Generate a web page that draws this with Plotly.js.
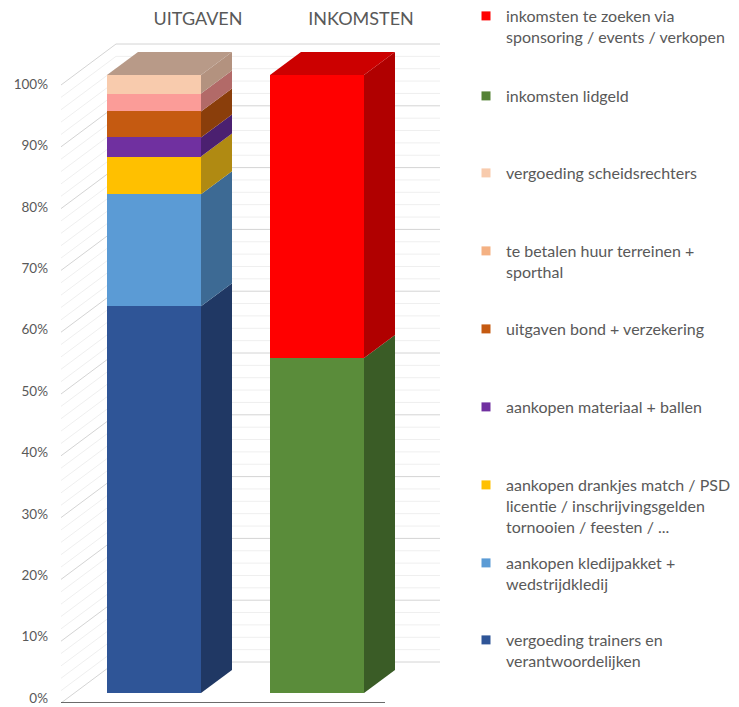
<!DOCTYPE html>
<html><head><meta charset="utf-8">
<script src="https://cdn.plot.ly/plotly-3.0.1.min.js"></script>
<style>html,body{margin:0;padding:0;background:#fff}</style>
</head><body><div id="chart" style="width:739px;height:707px"></div>
<script>
// ---------- data ----------
const categories = ['UITGAVEN', 'INKOMSTEN'];
const uitgavenLabels = [
  'vergoeding trainers en<br>verantwoordelijken',
  'aankopen kledijpakket +<br>wedstrijdkledij',
  'aankopen drankjes match / PSD<br>licentie / inschrijvingsgelden<br>tornooien / feesten / ...',
  'aankopen materiaal + ballen',
  'uitgaven bond + verzekering',
  'te betalen huur terreinen +<br>sporthal',
  'vergoeding scheidsrechters'
];
const uitgavenValues = [62.6, 18.1, 6.1, 3.1, 4.2, 2.9, 3.0];
const inkomstenLabels = [
  'inkomsten lidgeld',
  'inkomsten te zoeken via<br>sponsoring / events / verkopen'
];
const inkomstenValues = [54.2, 45.8];
const yTickValues = [0, 10, 20, 30, 40, 50, 60, 70, 80, 90, 100];
const yTickLabels = ['0%', '10%', '20%', '30%', '40%', '50%', '60%', '70%', '80%', '90%', '100%'];

// ---------- styles ----------
const uitgavenFront  = ['#2F5597', '#5B9BD5', '#FFC000', '#7030A0', '#C55A11', '#FB9C98', '#F8CBAD'];
const uitgavenSide   = ['#203864', '#3D6A94', '#B08A12', '#4B2070', '#8A3E0B', '#B26A68', '#B3927F'];
const uitgavenLegend = ['#2F5597', '#5B9BD5', '#FFC000', '#7030A0', '#C55A11', '#F4B183', '#F8CBAD'];
const inkomstenFront  = ['#5A8C3A', '#FF0000'];
const inkomstenSide   = ['#3A5C26', '#B00000'];
const inkomstenLegend = ['#548235', '#FF0000'];
const topColors = ['#B89A88', '#CC0000'];
const textColor = '#595959';
const FONT = 'Lato, "Open Sans", sans-serif';

// ---------- geometry (pixels) ----------
const W = 739, H = 707;
const PL = 61, PR = 440, PT = 40, PB = 703;   // plot area (PB = front floor edge)
const PXY = 6.18;          // px per 1 %
const X0 = 154, PXX = 163; // px of category 0 front centre, px per category
const BAR_W = 94, BAR_LIFT = 10, BAR_DX = 31, BAR_DY = 23, WALL_DX = 55, WALL_DY = 41;
const FLOOR_RIGHT = 385;
const LABEL_Y0 = 698, LABEL_Y100 = 84;      // pixel rows of the 0% / 100% tick labels

const xu = px => (px - X0) / PXX;
const lift = BAR_LIFT / PXY;
const bw = BAR_W / PXX, bdx = BAR_DX / PXX, bdy = BAR_DY / PXY;
// bar axis (y2): value 0 sits BAR_LIFT px above the floor front edge
const y2Range = [-lift, (PB - PT) / PXY - lift];
// label axis (y)
const LS = (LABEL_Y0 - LABEL_Y100) / 100;
const yLabRange = [-(PB - LABEL_Y0) / LS, -(PB - LABEL_Y0) / LS + (PB - PT) / LS];

// ---------- traces ----------
const traces = [];
const shapes = [];

// grid on walls (in y2 units; floor-front value v maps to v - lift)
for (let v = 0; v <= 100; v += 2) {
  const major = yTickValues.includes(v);
  const col = major ? '#D4D4D4' : '#EFEFEF';
  const yf = v - lift, yb = v - lift + WALL_DY / PXY;
  shapes.push({type: 'line', xref: 'x', yref: 'y2', layer: 'below',
    x0: xu(PL + WALL_DX), x1: xu(PR), y0: yb, y1: yb, line: {color: col, width: 1}});
  shapes.push({type: 'line', xref: 'x', yref: 'y2', layer: 'below',
    x0: xu(PL), x1: xu(PL + WALL_DX), y0: yf, y1: yb, line: {color: col, width: 1}});
}
// floor front edge
shapes.push({type: 'line', xref: 'x', yref: 'y2', layer: 'above',
  x0: xu(PL), x1: xu(FLOOR_RIGHT), y0: -lift, y1: -lift, line: {color: '#3a3a3a', width: 1.5}});

function addStack(catIndex, labels, values, front, side, top) {
  let base = 0;
  const xr = catIndex + bw / 2, xl = catIndex - bw / 2;
  values.forEach((v, i) => {
    const y = categories.map((c, j) => (j === catIndex ? v : null));
    traces.push({type: 'bar', x: categories.map((c, j) => j), y: y,
      xaxis: 'x', yaxis: 'y2', width: bw, name: labels[i],
      marker: {color: front[i], line: {width: 0}}, showlegend: false, hoverinfo: 'skip'});
    const t = base + v;
    shapes.push({type: 'path', xref: 'x', yref: 'y2', layer: 'below', line: {width: 0},
      fillcolor: side[i],
      path: `M${xr},${base} L${xr + bdx},${base + bdy} L${xr + bdx},${t + bdy} L${xr},${t} Z`});
    base = t;
  });
  shapes.push({type: 'path', xref: 'x', yref: 'y2', layer: 'below', line: {width: 0},
    fillcolor: top,
    path: `M${xl},${base} L${xl + bdx},${base + bdy} L${xr + bdx},${base + bdy} L${xr},${base} Z`});
}
addStack(0, uitgavenLabels, uitgavenValues, uitgavenFront, uitgavenSide, topColors[0]);
addStack(1, inkomstenLabels, inkomstenValues, inkomstenFront, inkomstenSide, topColors[1]);

// legend (top to bottom)
const legendNames = inkomstenLabels.slice().reverse().concat(uitgavenLabels.slice().reverse());
const legendColors = inkomstenLegend.slice().reverse().concat(uitgavenLegend.slice().reverse());
const legendTopPx = [-1, 79, 156, 234, 312, 390, 468, 546, 623]; // legend box tops (px)
const LEG_BOX_X = 466;
const layoutLegends = {};
legendNames.forEach((name, k) => {
  const id = k === 0 ? 'legend' : 'legend' + (k + 1);
  traces.push({type: 'scatter', mode: 'markers', x: [null], y: [null], name: name,
    xaxis: 'x', yaxis: 'y', legend: id,
    marker: {symbol: 'square', size: 9, color: legendColors[k]}, hoverinfo: 'skip'});
  layoutLegends[id] = {
    x: (LEG_BOX_X - PL) / (PR - PL), xanchor: 'left',
    y: (PB - legendTopPx[k]) / (PB - PT), yanchor: 'top', valign: 'top',
    bgcolor: 'rgba(0,0,0,0)', borderwidth: 0,
    font: {family: FONT, size: 16, color: textColor}
  };
});

const layout = Object.assign({
  width: W, height: H,
  margin: {l: PL, r: W - PR, t: PT, b: H - PB, pad: 0, autoexpand: false},
  paper_bgcolor: '#fff', plot_bgcolor: 'rgba(0,0,0,0)',
  barmode: 'stack', showlegend: true,
  xaxis: {range: [xu(PL), xu(PR)], side: 'top', tickvals: categories.map((c, j) => j),
    ticktext: categories, ticks: '', showgrid: false, zeroline: false, showline: false,
    ticklabelshift: 44, ticklabelstandoff: 10,
    tickfont: {family: FONT, size: 18, color: textColor}, fixedrange: true},
  yaxis: {range: yLabRange, tickmode: 'array', tickvals: yTickValues, ticktext: yTickLabels,
    ticks: '', showgrid: false, zeroline: false, showline: false, ticklabelstandoff: 12,
    ticklabeloverflow: 'allow',
    tickfont: {family: FONT, size: 13.5, color: textColor}, fixedrange: true},
  yaxis2: {range: y2Range, overlaying: 'y', visible: false, fixedrange: true},
  shapes: shapes
}, layoutLegends);

Plotly.newPlot('chart', traces, layout, {displayModeBar: false, staticPlot: true});
</script></body></html>
